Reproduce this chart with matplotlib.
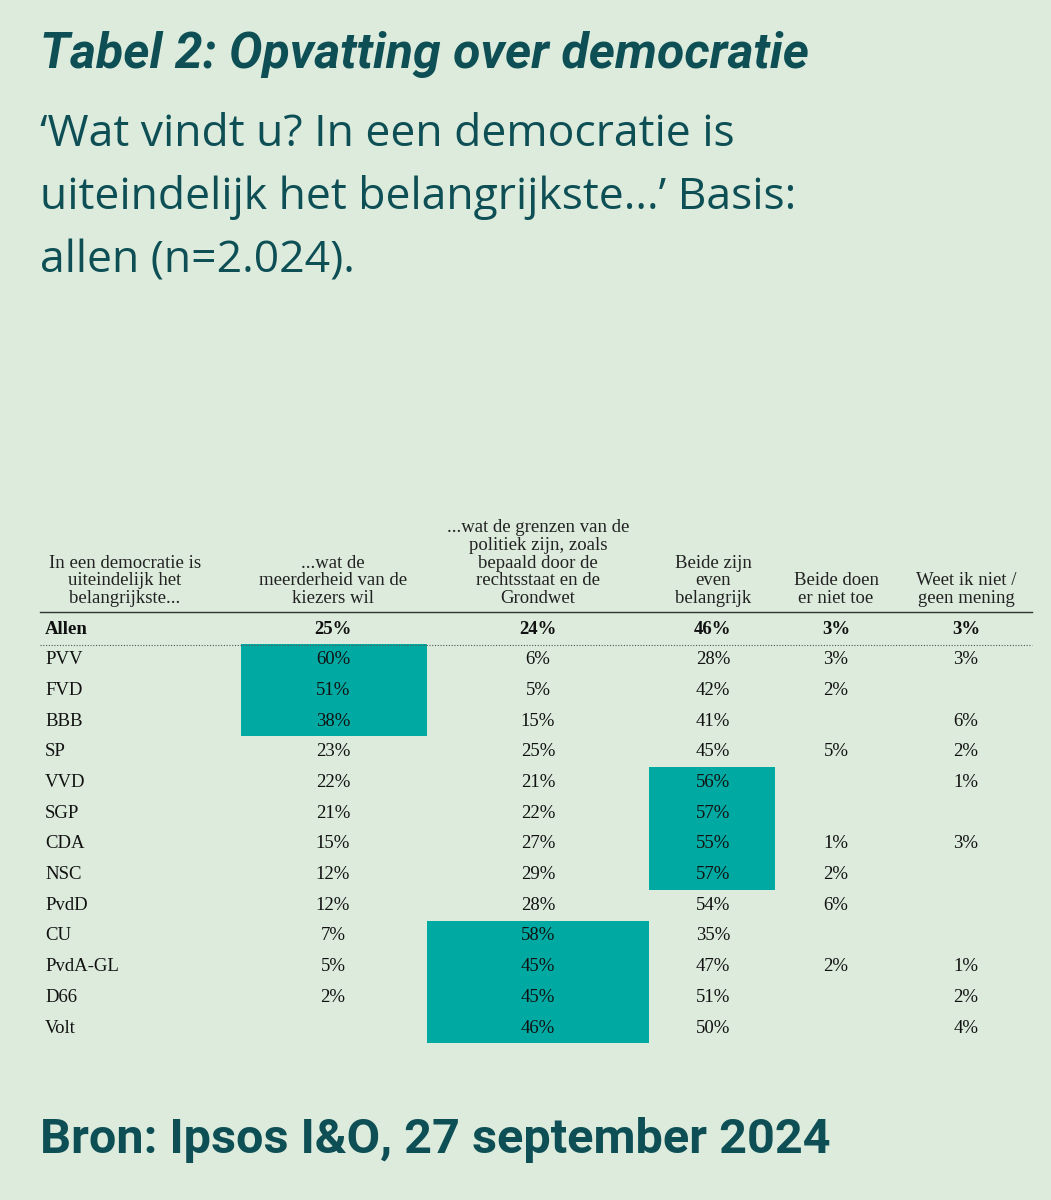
import matplotlib.pyplot as plt
from matplotlib.patches import Rectangle

# data
parties = ["Allen", "PVV", "FVD", "BBB", "SP", "VVD", "SGP", "CDA", "NSC", "PvdD",
           "CU", "PvdA-GL", "D66", "Volt"]
meerderheid = [25, 60, 51, 38, 23, 22, 21, 15, 12, 12, 7, 5, 2, None]
grenzen = [24, 6, 5, 15, 25, 21, 22, 27, 29, 28, 58, 45, 45, 46]
beide = [46, 28, 42, 41, 45, 56, 57, 55, 57, 54, 35, 47, 51, 50]
niet_toe = [3, 3, 2, None, 5, None, None, 1, 2, 6, None, 2, None, None]
weet_niet = [3, 3, None, 6, 2, 1, None, 3, None, None, None, 1, 2, 4]
headers = ["In een democratie is\nuiteindelijk het\nbelangrijkste...",
           "...wat de\nmeerderheid van de\nkiezers wil",
           "...wat de grenzen van de\npolitiek zijn, zoals\nbepaald door de\nrechtsstaat en de\nGrondwet",
           "Beide zijn\neven\nbelangrijk",
           "Beide doen\ner niet toe",
           "Weet ik niet /\ngeen mening"]
# highlighted blocks: (column, first row, last row)
highlights = [(1, 1, 3), (3, 5, 8), (2, 10, 13)]

bg = "#dcebdc"
dark = "#0d4f55"
teal = "#00aaa3"
serif = "Liberation Serif"

fig = plt.figure(figsize=(10.51, 12), dpi=100, facecolor=bg)
ax = fig.add_axes([0, 0, 1, 1])
ax.set_xlim(0, 1051)
ax.set_ylim(1200, 0)
ax.axis("off")

ax.text(40, 55, "Tabel 2: Opvatting over democratie", fontsize=36, fontweight="bold",
        fontstyle="italic", color=dark, family="Roboto", va="center")
for i, line in enumerate(["\u2018Wat vindt u? In een democratie is",
                          "uiteindelijk het belangrijkste...\u2019 Basis:",
                          "allen (n=2.024)."]):
    ax.text(40, 135 + i * 63, line, fontsize=32, color=dark, family="Open Sans",
            va="center")
ax.text(40, 1140, "Bron: Ipsos I&O, 27 september 2024", fontsize=35, fontweight="bold",
        color=dark, family="Roboto", va="center")

col_x = [125, 333, 538, 713, 836, 966]
col_edges = [241, 427, 649, 775]
row_y0, row_h = 629, 30.7

for c, r0, r1 in highlights:
    x0, x1 = col_edges[c - 1], col_edges[c]
    ax.add_patch(Rectangle((x0, row_y0 + (r0 - 0.5) * row_h), x1 - x0,
                           (r1 - r0 + 1) * row_h, color=teal, lw=0))

for i, h in enumerate(headers):
    ax.text(col_x[i], 607, h, ha="center", va="bottom", fontsize=13.5,
            family=serif, linespacing=1.05, color="#222222")

ax.plot([40, 1032], [612, 612], color="#333333", lw=1)
ax.plot([40, 1032], [645, 645], color="#555555", lw=0.8, ls=(0, (1, 1.5)))

cols = [meerderheid, grenzen, beide, niet_toe, weet_niet]
for r, p in enumerate(parties):
    y = row_y0 + r * row_h
    w = "bold" if r == 0 else "normal"
    ax.text(45, y, p, ha="left", va="center", fontsize=13.5, family=serif,
            fontweight=w, color="#111111")
    for c, vals in enumerate(cols):
        if vals[r] is not None:
            ax.text(col_x[c + 1], y, f"{vals[r]}%", ha="center", va="center",
                    fontsize=13.5, family=serif, fontweight=w, color="#111111")

fig.savefig("out.png", dpi=100, facecolor=bg)
